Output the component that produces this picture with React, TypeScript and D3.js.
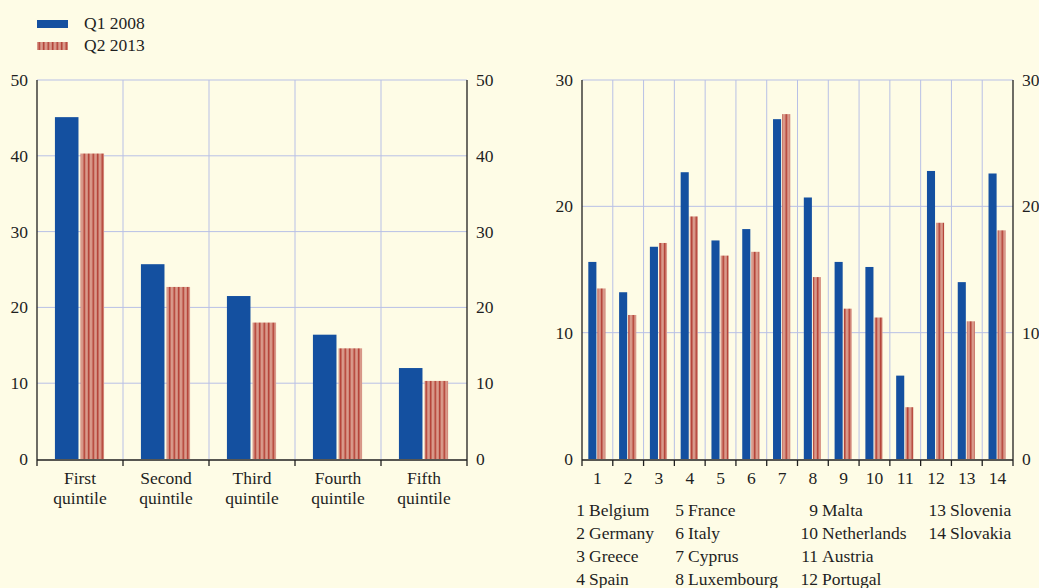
import React from "react";
import * as d3 from "d3";

const quintiles = [["First", "quintile"], ["Second", "quintile"], ["Third", "quintile"], ["Fourth", "quintile"], ["Fifth", "quintile"]];
const quintileQ1 = [45.1, 25.7, 21.5, 16.4, 12.0];
const quintileQ2 = [40.3, 22.7, 18.0, 14.6, 10.3];

const countries = ["Belgium", "Germany", "Greece", "Spain", "France", "Italy", "Cyprus", "Luxembourg", "Malta", "Netherlands", "Austria", "Portugal", "Slovenia", "Slovakia"];
const countryQ1 = [15.6, 13.2, 16.8, 22.7, 17.3, 18.2, 26.9, 20.7, 15.6, 15.2, 6.6, 22.8, 14.0, 22.6];
const countryQ2 = [13.5, 11.4, 17.1, 19.2, 16.1, 16.4, 27.3, 14.4, 11.9, 11.2, 4.1, 18.7, 10.9, 18.1];

const leftTicks = [0, 10, 20, 30, 40, 50];
const rightTicks = [0, 10, 20, 30];
const seriesNames = ["Q1 2008", "Q2 2013"];

const BG = "#FEFCE6";
const BLUE = "#1450A0";
const RED_FILL = "#D99A8B";
const RED_STRIPE = "#B0392E";
const GRID = "#B8C0E6";
const AXIS = "#1f1f1f";
const TEXT = "#1f1f1f";
const FONT = "'Liberation Serif', 'Times New Roman', serif";
const FS = 17.5;

type PanelProps = {
  x0: number; x1: number; yTop: number; yBot: number; max: number;
  cats: string[]; q1: number[]; q2: number[]; ticks: number[];
  outer: number; inner: number;
  labels: (i: number) => string[];
};

function Panel(p: PanelProps) {
  const x = d3.scaleBand<string>().domain(p.cats).range([p.x0, p.x1]).padding(0);
  const y = d3.scaleLinear().domain([0, p.max]).range([p.yBot, p.yTop]);
  const sub = d3.scaleBand<string>().domain(["a", "b"]).range([0, x.bandwidth()]).paddingInner(p.inner).paddingOuter(p.outer);
  const bounds = p.cats.map((c) => x(c)!).concat([p.x1]);
  const axisY = p.yBot + 1;
  return (
    <g>
      {p.ticks.filter((t) => t > 0).map((t) => (
        <line key={"h" + t} x1={p.x0} x2={p.x1} y1={y(t)} y2={y(t)} stroke={GRID} strokeWidth={1} />
      ))}
      {bounds.slice(1, -1).map((b, i) => (
        <line key={"v" + i} x1={b} x2={b} y1={p.yTop} y2={p.yBot} stroke={GRID} strokeWidth={1} />
      ))}
      {p.cats.map((c, i) => (
        <g key={"b" + c}>
          <rect x={x(c)! + sub("a")! - 0.5} y={y(p.q1[i])} width={sub.bandwidth()} height={p.yBot - y(p.q1[i])} fill={BLUE} />
          <rect x={x(c)! + sub("b")! - 0.5} y={y(p.q2[i])} width={sub.bandwidth()} height={p.yBot - y(p.q2[i])} fill="url(#stripes)" />
        </g>
      ))}
      <line x1={p.x0} x2={p.x0} y1={p.yTop} y2={axisY} stroke={AXIS} strokeWidth={1.3} />
      <line x1={p.x1} x2={p.x1} y1={p.yTop} y2={axisY} stroke={AXIS} strokeWidth={1.3} />
      <line x1={p.x0} x2={p.x1} y1={axisY} y2={axisY} stroke={AXIS} strokeWidth={1.3} />
      {bounds.map((b, i) => (
        <line key={"t" + i} x1={b} x2={b} y1={axisY} y2={axisY + 6} stroke={AXIS} strokeWidth={1.3} />
      ))}
      {p.ticks.map((t) => (
        <g key={"l" + t} fontFamily={FONT} fontSize={FS} fill={TEXT}>
          <text x={p.x0 - 9} y={y(t) + 6} textAnchor="end">{t}</text>
          <text x={p.x1 + 9} y={y(t) + 6} textAnchor="start">{t}</text>
        </g>
      ))}
      {p.cats.map((c, i) => (
        <text key={"x" + c} x={x(c)! + x.bandwidth() / 2} textAnchor="middle" fontFamily={FONT} fontSize={FS} fill={TEXT}>
          {p.labels(i).map((ln, j) => (
            <tspan key={j} x={x(c)! + x.bandwidth() / 2} y={p.yBot + 25 + j * 20}>{ln}</tspan>
          ))}
        </text>
      ))}
    </g>
  );
}

export default function App() {
  const countryIds = countries.map((_, i) => String(i + 1));
  const colNumEnd = [585, 684, 818, 946];
  return (
    <svg width={1039} height={588} style={{ position: "fixed", left: 0, top: 0, background: BG }}>
      <defs>
        <pattern id="stripes" patternUnits="userSpaceOnUse" width={4.5} height={10}>
          <rect x={0} y={0} width={4.5} height={10} fill={RED_FILL} />
          <rect x={2.5} y={0} width={1.5} height={10} fill={RED_STRIPE} />
        </pattern>
      </defs>
      <rect x={0} y={0} width={1039} height={588} fill={BG} />
      <g fontFamily={FONT} fontSize={FS} fill={TEXT}>
        <rect x={37} y={20} width={31} height={8} fill={BLUE} />
        <text x={84} y={29}>{seriesNames[0]}</text>
        <rect x={37} y={42} width={31} height={8} fill="url(#stripes)" />
        <text x={84} y={51}>{seriesNames[1]}</text>
      </g>
      <Panel x0={37} x1={467} yTop={80} yBot={459} max={50}
        cats={quintiles.map((q) => q.join(" "))} q1={quintileQ1} q2={quintileQ2}
        ticks={leftTicks} outer={0.72} inner={0.08} labels={(i) => quintiles[i]} />
      <Panel x0={582} x1={1013} yTop={80} yBot={459} max={30}
        cats={countryIds} q1={countryQ1} q2={countryQ2}
        ticks={rightTicks} outer={0.75} inner={0.11} labels={(i) => [countryIds[i]]} />
      <g fontFamily={FONT} fontSize={FS} fill={TEXT}>
        {countries.map((c, i) => {
          const col = Math.floor(i / 4);
          const row = i % 4;
          const yy = 516 + row * 23;
          return (
            <g key={c}>
              <text x={colNumEnd[col]} y={yy} textAnchor="end">{i + 1}</text>
              <text x={colNumEnd[col] + 4} y={yy}>{c}</text>
            </g>
          );
        })}
      </g>
    </svg>
  );
}
